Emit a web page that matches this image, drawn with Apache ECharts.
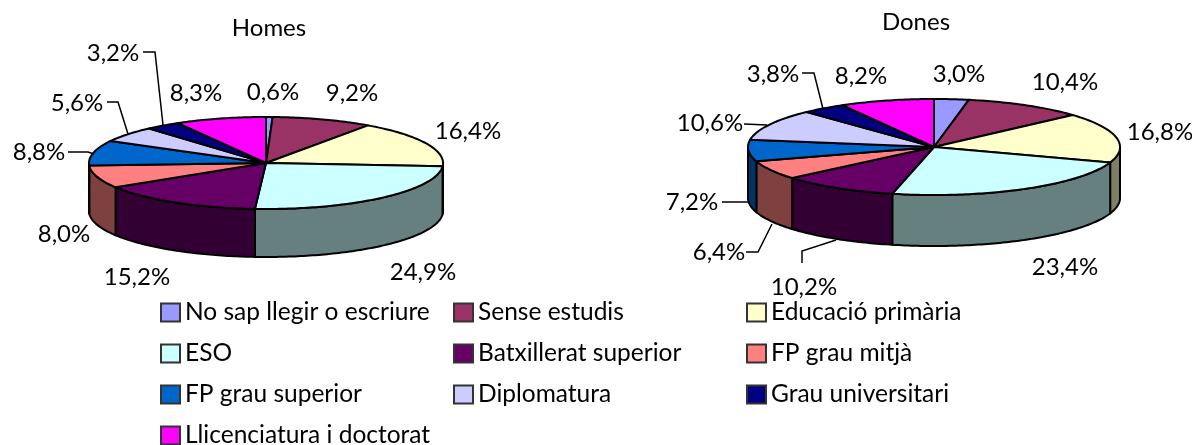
<!DOCTYPE html>
<html>
<head>
<meta charset="utf-8">
<style>
html, body { margin: 0; padding: 0; background: #fff; }
#chart { width: 1192px; height: 445px; }
</style>
<script src="https://cdn.jsdelivr.net/npm/echarts@6/dist/echarts.min.js"></script>
</head>
<body>
<div id="chart"></div>
<script>
const categories = ['No sap llegir o escriure', 'Sense estudis', 'Educació primària', 'ESO', 'Batxillerat superior',
    'FP grau mitjà', 'FP grau superior', 'Diplomatura', 'Grau universitari', 'Llicenciatura i doctorat'];
const homesValues = [0.6, 9.2, 16.4, 24.9, 15.2, 8.0, 8.8, 5.6, 3.2, 8.3];
const donesValues = [3.0, 10.4, 16.8, 23.4, 10.2, 6.4, 7.2, 10.6, 3.8, 8.2];
const colors = ['#9999FF', '#993366', '#FFFFCC', '#CCFFFF', '#660066', '#FF8080', '#0066CC', '#CCCCFF', '#000080', '#FF00FF'];

// label centres, same order as categories
const homesLabelPos = [[273, 92], [352, 93], [468, 131], [423, 272], [137, 277], [64, 234], [39, 152], [77, 103], [113, 53], [196, 93]];
const donesLabelPos = [[959, 74], [1065, 82], [1160, 132], [1065, 267], [804, 287], [719, 252], [692, 202], [710, 123], [773, 74], [861, 76]];

// leader lines, null when the label sits next to its slice
const homesLeaders = [null, null, null, null, null, null,
    [[68, 152], [88, 152], [94, 154]],
    [[107, 102], [118, 102], [128, 134]],
    [[143, 52], [155, 52], [163, 125]],
    null];
const donesLeaders = [null, null, null, null,
    [[802, 263], [802, 251], [836, 240]],
    [[746, 252], [758, 252], [772, 224]],
    [[722, 202], [750, 202]],
    [[744, 124], [767, 125]],
    [[802, 73], [814, 73], [823, 109]],
    null];

const pies = [
    { cx: 266, cy: 163, rx: 177, ry: 46, depth: 48, values: homesValues, labelPos: homesLabelPos, leaders: homesLeaders },
    { cx: 934, cy: 147, rx: 186, ry: 48, depth: 51, values: donesValues, labelPos: donesLabelPos, leaders: donesLeaders }
];

const fontFamily = 'Lato';
const fontSize = 24;

function sideColor(hex) {
    let n = parseInt(hex.slice(1), 16);
    let r = (n >> 16) >> 1, g = ((n >> 8) & 255) >> 1, b = (n & 255) >> 1;
    return 'rgb(' + r + ',' + g + ',' + b + ')';
}

function formatValue(v) {
    return v.toFixed(1).replace('.', ',') + '%';
}

// point on the rim, angle in degrees clockwise from the top
function rim(pie, deg, drop) {
    let a = deg * Math.PI / 180;
    return [pie.cx + pie.rx * Math.sin(a), pie.cy - pie.ry * Math.cos(a) + (drop || 0)];
}

function arc(pie, from, to, drop) {
    let pts = [];
    let steps = Math.max(1, Math.ceil(Math.abs(to - from)));
    for (let i = 0; i <= steps; i++) {
        pts.push(rim(pie, from + (to - from) * i / steps, drop));
    }
    return pts;
}

function sliceAngles(pie, index) {
    let total = pie.values.reduce((s, v) => s + v, 0);
    let before = 0;
    for (let i = 0; i < index; i++) before += pie.values[i];
    return [before / total * 360, (before + pie.values[index]) / total * 360];
}

function renderSlice(catIndex, params, api) {
    let pie = pies[params.dataIndex];
    let [start, end] = sliceAngles(pie, catIndex);
    let children = [];
    let stroke = { stroke: '#000', lineWidth: 2, lineJoin: 'round' };

    // the wall only shows on the front half
    let wallFrom = Math.max(start, 90);
    let wallTo = Math.min(end, 270);
    if (wallTo > wallFrom) {
        let pts = arc(pie, wallFrom, wallTo, 0).concat(arc(pie, wallTo, wallFrom, pie.depth));
        children.push({
            type: 'polygon', z2: 1,
            shape: { points: pts },
            style: Object.assign({ fill: sideColor(colors[catIndex]) }, stroke)
        });
    }

    children.push({
        type: 'polygon', z2: 2,
        shape: { points: [[pie.cx, pie.cy]].concat(arc(pie, start, end, 0)) },
        style: Object.assign({ fill: colors[catIndex] }, stroke)
    });

    let pos = pie.labelPos[catIndex];
    children.push({
        type: 'text', z2: 4, x: pos[0], y: pos[1],
        style: {
            text: formatValue(api.value(0)),
            fill: '#000', font: fontSize + 'px ' + fontFamily,
            textAlign: 'center', textVerticalAlign: 'middle'
        }
    });

    let leader = pie.leaders[catIndex];
    if (leader) {
        children.push({
            type: 'polyline', z2: 3,
            shape: { points: leader },
            style: { stroke: '#000', lineWidth: 1.5, fill: 'none' }
        });
    }
    return { type: 'group', children: children };
}

const series = categories.map((name, i) => ({
    type: 'custom',
    name: name,
    coordinateSystem: 'none',
    silent: true,
    animation: false,
    itemStyle: { color: colors[i], borderColor: '#333', borderWidth: 1.5 },
    data: [[homesValues[i]], [donesValues[i]]],
    renderItem: (params, api) => renderSlice(i, params, api)
}));

function legendColumn(left, names) {
    return {
        orient: 'vertical',
        left: left,
        top: 300,
        height: 200,
        padding: 0,
        itemWidth: 19,
        itemHeight: 18,
        itemGap: 16,
        icon: 'rect',
        selectedMode: false,
        textStyle: { fontFamily: fontFamily, fontSize: 24.5, color: '#000' },
        data: names
    };
}

const chart = echarts.init(document.getElementById('chart'));
chart.setOption({
    animation: false,
    backgroundColor: '#fff',
    title: [
        { text: 'Homes', left: 269, top: 28, textAlign: 'center', textVerticalAlign: 'middle',
          textStyle: { fontFamily: fontFamily, fontSize: fontSize, fontWeight: 'normal', color: '#000' }, padding: 0 },
        { text: 'Dones', left: 916, top: 22, textAlign: 'center', textVerticalAlign: 'middle',
          textStyle: { fontFamily: fontFamily, fontSize: fontSize, fontWeight: 'normal', color: '#000' }, padding: 0 }
    ],
    legend: [
        legendColumn(160, [categories[0], categories[3], categories[6], categories[9]]),
        legendColumn(453, [categories[1], categories[4], categories[7]]),
        legendColumn(746, [categories[2], categories[5], categories[8]])
    ],
    series: series
});
</script>
</body>
</html>
